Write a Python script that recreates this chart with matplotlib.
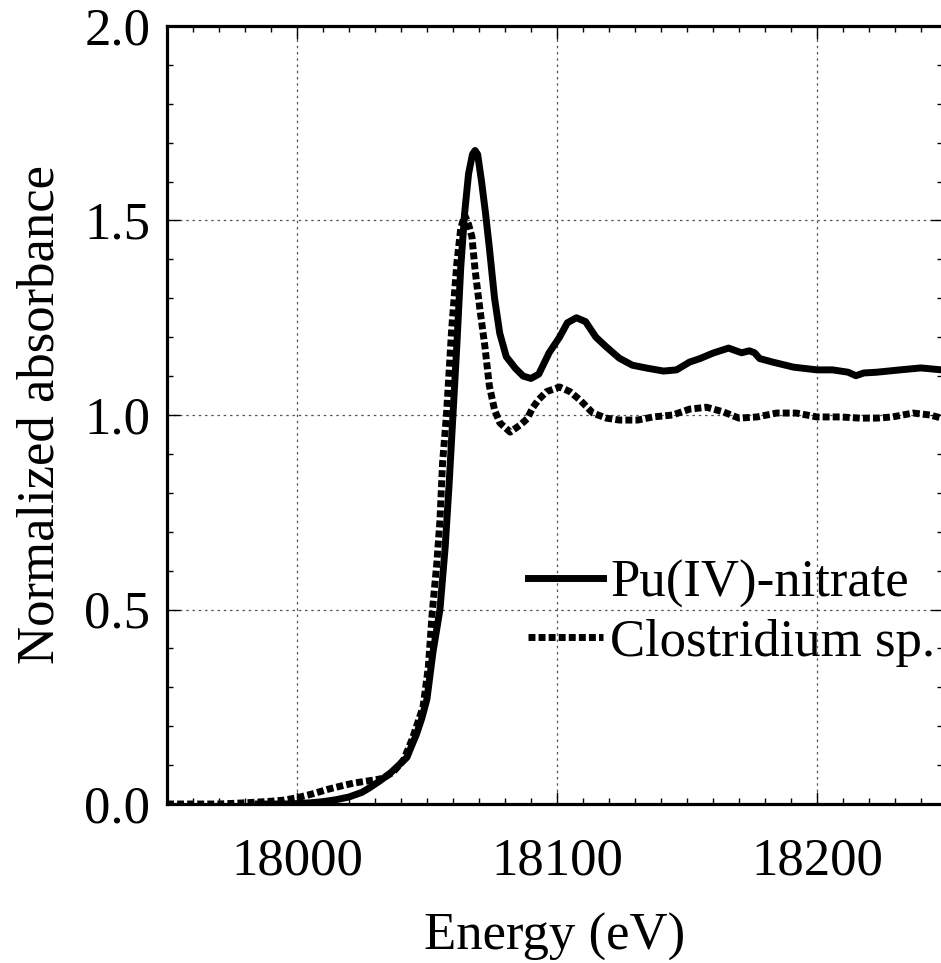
import numpy as np
import matplotlib
matplotlib.use("Agg")
import matplotlib.pyplot as plt
from matplotlib.ticker import MultipleLocator, FixedLocator

plt.rcParams['font.family'] = ['Liberation Serif', 'DejaVu Serif']
plt.rcParams['mathtext.fontset'] = 'stix'

# Pu(IV)-nitrate (solid)
pu_E = [17985, 17995, 18000, 18005, 18010, 18015, 18020, 18025, 18028, 18032, 18036,
        18040, 18042.3, 18044, 18046, 18048, 18050, 18052.3, 18055, 18057, 18058.5,
        18060, 18061.5, 18063, 18064.5, 18066, 18067.5, 18068.5, 18069.5, 18071,
        18072.5, 18074, 18076, 18078, 18080.5, 18084, 18087, 18090, 18093, 18097,
        18101, 18104, 18107.5, 18111, 18115, 18119, 18124, 18129, 18135, 18141,
        18146, 18151, 18155, 18160, 18166, 18171, 18174, 18176, 18178, 18183, 18191,
        18200, 18206, 18212, 18215, 18218, 18223, 18232, 18240, 18248]
pu_mu = [0.0, 0.0, 0.001, 0.003, 0.006, 0.011, 0.018, 0.03, 0.042, 0.06, 0.08,
         0.105, 0.12, 0.148, 0.18, 0.22, 0.27, 0.39, 0.50, 0.66, 0.82,
         1.0, 1.18, 1.38, 1.52, 1.62, 1.67, 1.68, 1.67, 1.60,
         1.52, 1.43, 1.30, 1.21, 1.15, 1.12, 1.10, 1.094, 1.105, 1.16,
         1.20, 1.237, 1.25, 1.24, 1.20, 1.175, 1.146, 1.128, 1.12, 1.113,
         1.116, 1.136, 1.145, 1.159, 1.172, 1.16, 1.165, 1.16, 1.145, 1.136, 1.123,
         1.116, 1.116, 1.11, 1.101, 1.108, 1.11, 1.116, 1.121, 1.116]

# Clostridium sp. (dotted)
cl_E = [17950, 17960, 17970, 17980, 17990, 17995, 18000, 18006, 18012, 18018, 18022,
        18026, 18030, 18033, 18037, 18041, 18044.5, 18048.5, 18050.5, 18052, 18053.8,
        18055, 18056, 18057.5, 18059.5, 18061.5, 18063, 18064.5, 18066, 18067.3,
        18068.5, 18070.4, 18072.3, 18074, 18076, 18078, 18082, 18085.8, 18088.5,
        18090.8, 18093, 18096, 18101, 18105, 18108.8, 18113.8, 18119, 18124, 18131,
        18137, 18144.5, 18151, 18157.5, 18164, 18170, 18177, 18184.5, 18192, 18200,
        18209, 18216.5, 18223, 18229, 18237, 18243.5, 18248]
cl_mu = [0.0, 0.0, 0.0, 0.003, 0.007, 0.01, 0.016, 0.026, 0.038, 0.048, 0.054,
         0.058, 0.062, 0.066, 0.082, 0.113, 0.17, 0.25, 0.35, 0.49, 0.62,
         0.73, 0.877, 1.0, 1.22, 1.39, 1.48, 1.514, 1.49, 1.458,
         1.373, 1.27, 1.175, 1.075, 1.013, 0.98, 0.956, 0.974, 0.99,
         1.02, 1.04, 1.06, 1.072, 1.06, 1.039, 1.005, 0.992, 0.987, 0.987,
         0.995, 1.0, 1.015, 1.02, 1.008, 0.992, 0.995, 1.005, 1.005, 0.995,
         0.995, 0.992, 0.992, 0.995, 1.005, 1.0, 0.992]

labels = ["Pu(IV)-nitrate", "Clostridium sp."]
xticks_major = [18000, 18100, 18200]
yticks_major = [0.0, 0.5, 1.0, 1.5, 2.0]

fig = plt.figure(figsize=(9.41, 9.63), dpi=100)
ax = fig.add_axes([167/941, 159/963, 776/941, 778/963])

ax.plot(pu_E, pu_mu, color='black', lw=5, solid_joinstyle='round', label=labels[0])
ax.plot(cl_E, cl_mu, color='black', lw=5, linestyle=(0, (1.0, 0.45)),
        dash_capstyle='butt', label=labels[1])

ax.set_xlim(17950, 18248.5)
ax.set_ylim(0, 2.0)
ax.xaxis.set_major_locator(FixedLocator(xticks_major))
ax.xaxis.set_minor_locator(MultipleLocator(10))
ax.yaxis.set_major_locator(FixedLocator(yticks_major))
ax.yaxis.set_minor_locator(MultipleLocator(0.1))
ax.set_yticklabels([f"{v:.1f}" for v in yticks_major])

ax.tick_params(which='both', direction='in', top=True, right=True, width=1.0,
               labelsize=38)
ax.tick_params(which='major', length=9)
ax.tick_params(which='minor', length=4.5)
ax.tick_params(axis='x', which='major', pad=24)
ax.tick_params(axis='y', which='major', pad=12)

for s in ax.spines.values():
    s.set_linewidth(2.3)

ax.grid(True, which='major', linestyle=(0, (2, 3)), color='#555555', linewidth=0.9)

ax.set_xlabel("Energy (eV)", fontsize=38, labelpad=20)
ax.set_ylabel("Normalized absorbance", fontsize=38, labelpad=14)

leg = ax.legend(loc='center left', bbox_to_anchor=(0.465, 0.245), frameon=False,
                fontsize=38, borderpad=0, borderaxespad=0, handlelength=1.42,
                handletextpad=0.14, labelspacing=0.2)

fig.savefig("out.png", dpi=100)
